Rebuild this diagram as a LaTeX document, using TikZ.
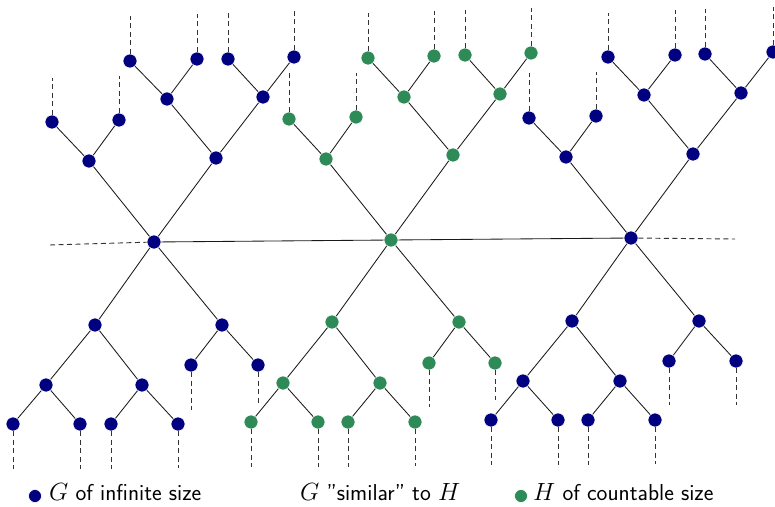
\documentclass[tikz,border=0pt]{standalone}
\usepackage{fontspec}
\definecolor{navyc}{RGB}{0,0,128}
\definecolor{greenc}{RGB}{46,139,87}
\begin{document}
\begin{tikzpicture}[x=1pt,y=-1pt,
  bnode/.style={circle,fill=navyc,draw=white,line width=0.6pt,minimum size=14pt,inner sep=0pt},
  gnode/.style={circle,fill=greenc,draw=white,line width=0.6pt,minimum size=14pt,inner sep=0pt},
  edge/.style={line width=0.85pt,black!90},
  dashedge/.style={line width=0.95pt,black!80,dash pattern=on 5pt off 3.5pt},
  legtext/.style={anchor=base west,inner sep=0pt,font=\fontsize{23}{27}\selectfont\sffamily}]
\useasboundingbox (0,0) rectangle (775,506);
% ---------- Tree 1 (blue) ----------
\node[bnode] (R1) at (154,242) {};
\node[bnode] (U1L) at (89,161) {};
\node[bnode] (U1R) at (216,158) {};
\node[bnode] (U1LL) at (52,122) {};
\node[bnode] (U1LR) at (119,120) {};
\node[bnode] (U1RL) at (167,99) {};
\node[bnode] (U1RR) at (263,97) {};
\node[bnode] (U1RLL) at (130,61) {};
\node[bnode] (U1RLR) at (197,59) {};
\node[bnode] (U1RRL) at (228,59) {};
\node[bnode] (U1RRR) at (294,57) {};
\node[bnode] (D1L) at (95,325) {};
\node[bnode] (D1R) at (222,325) {};
\node[bnode] (D1LL) at (46,385) {};
\node[bnode] (D1LR) at (142,385) {};
\node[bnode] (D1LLL) at (13,424) {};
\node[bnode] (D1LLR) at (80,424) {};
\node[bnode] (D1LRL) at (111,424) {};
\node[bnode] (D1LRR) at (178,424) {};
\node[bnode] (D1RL) at (191,365) {};
\node[bnode] (D1RR) at (258,365) {};
% ---------- Tree 2 (green) ----------
\node[gnode] (R2) at (391,240) {};
\node[gnode] (U2L) at (326,159) {};
\node[gnode] (U2R) at (453,155) {};
\node[gnode] (U2LL) at (289,119) {};
\node[gnode] (U2LR) at (356,117) {};
\node[gnode] (U2RL) at (404,97) {};
\node[gnode] (U2RR) at (500,94) {};
\node[gnode] (U2RLL) at (368,58) {};
\node[gnode] (U2RLR) at (434,56) {};
\node[gnode] (U2RRL) at (465,55) {};
\node[gnode] (U2RRR) at (531,53) {};
\node[gnode] (D2L) at (332,322) {};
\node[gnode] (D2R) at (459,322) {};
\node[gnode] (D2LL) at (283,383) {};
\node[gnode] (D2LR) at (380,383) {};
\node[gnode] (D2LLL) at (251,422) {};
\node[gnode] (D2LLR) at (318,422) {};
\node[gnode] (D2LRL) at (348,422) {};
\node[gnode] (D2LRR) at (415,422) {};
\node[gnode] (D2RL) at (429,363) {};
\node[gnode] (D2RR) at (495,363) {};
% ---------- Tree 3 (blue) ----------
\node[bnode] (R3) at (631,238) {};
\node[bnode] (U3L) at (566,157) {};
\node[bnode] (U3R) at (693,154) {};
\node[bnode] (U3LL) at (529,118) {};
\node[bnode] (U3LR) at (596,116) {};
\node[bnode] (U3RL) at (644,95) {};
\node[bnode] (U3RR) at (741,93) {};
\node[bnode] (U3RLL) at (608,57) {};
\node[bnode] (U3RLR) at (675,55) {};
\node[bnode] (U3RRL) at (705,54) {};
\node[bnode] (U3RRR) at (773,52) {};
\node[bnode] (D3L) at (572,321) {};
\node[bnode] (D3R) at (699,321) {};
\node[bnode] (D3LL) at (523,381) {};
\node[bnode] (D3LR) at (620,381) {};
\node[bnode] (D3LLL) at (491,420) {};
\node[bnode] (D3LLR) at (558,420) {};
\node[bnode] (D3LRL) at (588,420) {};
\node[bnode] (D3LRR) at (655,420) {};
\node[bnode] (D3RL) at (669,361) {};
\node[bnode] (D3RR) at (736,361) {};
% ---------- dashed free ends ----------
\coordinate (hL) at (50,245);
\coordinate (hR) at (735,239);
\coordinate (e1a) at (50,78);  \coordinate (e1b) at (118,76);
\coordinate (e1c) at (130,16); \coordinate (e1d) at (195,14);
\coordinate (e1e) at (228,13); \coordinate (e1f) at (295,11);
\coordinate (f1a) at (12,469); \coordinate (f1b) at (79,469);
\coordinate (f1c) at (112,469);\coordinate (f1d) at (178,468);
\coordinate (f1e) at (191,410);\coordinate (f1f) at (259,404);
\coordinate (e2a) at (287,73); \coordinate (e2b) at (355,73);
\coordinate (e2c) at (367,13); \coordinate (e2d) at (432,11);
\coordinate (e2e) at (465,10); \coordinate (e2f) at (531,8);
\coordinate (f2a) at (250,467);\coordinate (f2b) at (317,467);
\coordinate (f2c) at (350,467);\coordinate (f2d) at (415,466);
\coordinate (f2e) at (429,407);\coordinate (f2f) at (496,400);
\coordinate (e3a) at (527,73); \coordinate (e3b) at (595,72);
\coordinate (e3c) at (607,13); \coordinate (e3d) at (672,10);
\coordinate (e3e) at (705,9);  \coordinate (e3f) at (773,7);
\coordinate (f3a) at (490,465);\coordinate (f3b) at (557,465);
\coordinate (f3c) at (590,465);\coordinate (f3d) at (655,464);
\coordinate (f3e) at (669,405);\coordinate (f3f) at (737,405);
% ---------- edges ----------
\begin{scope}[on background layer/.try]
\foreach \k in {1,2,3}{
  \draw[edge] (R\k) -- (U\k L);
  \draw[edge] (R\k) -- (U\k R);
  \draw[edge] (U\k L) -- (U\k LL);
  \draw[edge] (U\k L) -- (U\k LR);
  \draw[edge] (U\k R) -- (U\k RL);
  \draw[edge] (U\k R) -- (U\k RR);
  \draw[edge] (U\k RL) -- (U\k RLL);
  \draw[edge] (U\k RL) -- (U\k RLR);
  \draw[edge] (U\k RR) -- (U\k RRL);
  \draw[edge] (U\k RR) -- (U\k RRR);
  \draw[edge] (R\k) -- (D\k L);
  \draw[edge] (R\k) -- (D\k R);
  \draw[edge] (D\k L) -- (D\k LL);
  \draw[edge] (D\k L) -- (D\k LR);
  \draw[edge] (D\k LL) -- (D\k LLL);
  \draw[edge] (D\k LL) -- (D\k LLR);
  \draw[edge] (D\k LR) -- (D\k LRL);
  \draw[edge] (D\k LR) -- (D\k LRR);
  \draw[edge] (D\k R) -- (D\k RL);
  \draw[edge] (D\k R) -- (D\k RR);
  \draw[dashedge] (U\k LL) -- (U\k LL |- e\k a);
  \draw[dashedge] (U\k LR) -- (U\k LR |- e\k b);
  \draw[dashedge] (U\k RLL) -- (U\k RLL |- e\k c);
  \draw[dashedge] (U\k RLR) -- (U\k RLR |- e\k d);
  \draw[dashedge] (U\k RRL) -- (U\k RRL |- e\k e);
  \draw[dashedge] (U\k RRR) -- (U\k RRR |- e\k f);
  \draw[dashedge] (D\k LLL) -- (D\k LLL |- f\k a);
  \draw[dashedge] (D\k LLR) -- (D\k LLR |- f\k b);
  \draw[dashedge] (D\k LRL) -- (D\k LRL |- f\k c);
  \draw[dashedge] (D\k LRR) -- (D\k LRR |- f\k d);
  \draw[dashedge] (D\k RL) -- (D\k RL |- f\k e);
  \draw[dashedge] (D\k RR) -- (D\k RR |- f\k f);
}
\draw[edge] (R1) -- (R2);
\draw[edge] (R2) -- (R3);
\draw[dashedge] (hL) -- (R1);
\draw[dashedge] (R3) -- (hR);
\end{scope}
% ---------- legend ----------
\node[bnode,minimum size=13pt] (LB) at (35,496) {};
\node[legtext] (LT1) at (49,500) {$G$ of infinite size};
\node[legtext] (LT2) at (300,500) {$G$ "similar" to $H$};
\node[gnode,minimum size=13pt] (LG) at (521,496) {};
\node[legtext] (LT3) at (533,500) {$H$ of countable size};
\end{tikzpicture}
\end{document}
